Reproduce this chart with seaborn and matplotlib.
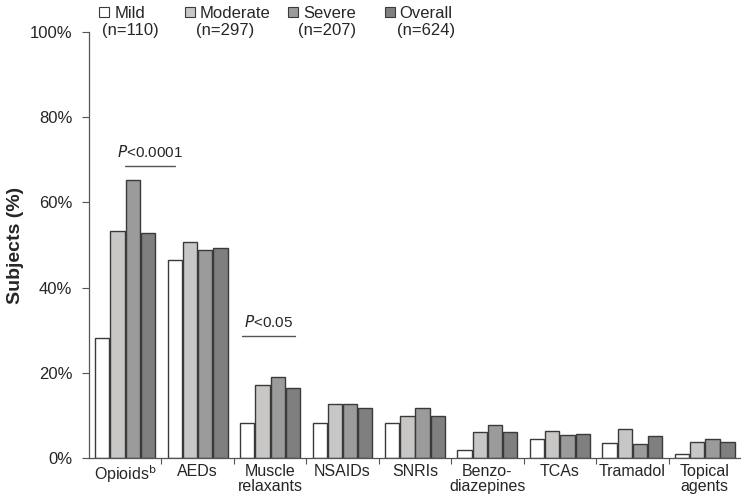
import matplotlib
matplotlib.use("Agg")
import matplotlib.pyplot as plt
import seaborn as sns
import pandas as pd
from matplotlib.patches import Patch
from matplotlib.ticker import FixedLocator, PercentFormatter

# Data
categories = ["Opioids", "AEDs", "Muscle relaxants", "NSAIDs", "SNRIs",
              "Benzodiazepines", "TCAs", "Tramadol", "Topical agents"]
tick_labels = ["Opioids$^{\\mathrm{b}}$", "AEDs", "Muscle\nrelaxants", "NSAIDs", "SNRIs",
               "Benzo-\ndiazepines", "TCAs", "Tramadol", "Topical\nagents"]
groups = ["Mild", "Moderate", "Severe", "Overall"]
group_n = ["(n=110)", "(n=297)", "(n=207)", "(n=624)"]
mild = [28.2, 46.5, 8.3, 8.3, 8.3, 1.8, 4.5, 3.6, 0.9]
moderate = [53.3, 50.6, 17.2, 12.6, 9.9, 6.0, 6.3, 6.7, 3.7]
severe = [65.3, 48.8, 18.9, 12.6, 11.7, 7.8, 5.4, 3.4, 4.4]
overall = [52.7, 49.2, 16.4, 11.7, 9.9, 6.0, 5.6, 5.1, 3.7]
colors = ["#ffffff", "#c9c6c6", "#9b9b9b", "#7f7f7f"]

rows = []
for g, vals in zip(groups, [mild, moderate, severe, overall]):
    for c, v in zip(categories, vals):
        rows.append({"Drug": c, "Group": g, "Pct": v})
df = pd.DataFrame(rows)

sns.set_style("white")
plt.rcParams["font.family"] = ["Liberation Sans", "DejaVu Sans"]

fig = plt.figure(figsize=(7.41, 5.0), dpi=100)
ax = fig.add_axes([0.12, 0.084, 0.88, 0.852])

sns.barplot(data=df, x="Drug", y="Pct", hue="Group", order=categories,
            hue_order=groups, palette=colors, width=0.84, gap=0.06,
            edgecolor="#3a3a3a", linewidth=1.0, saturation=1, ax=ax, legend=False)

ax.set_ylim(0, 100)
ax.set_xlim(-0.5, len(categories) - 0.5)
ax.yaxis.set_major_formatter(PercentFormatter(decimals=0))
ax.set_yticks(range(0, 101, 20))
ax.set_xticks(range(len(categories)))
ax.set_xticklabels(tick_labels, fontsize=11.5, linespacing=1.0)
ax.xaxis.set_minor_locator(FixedLocator([i + 0.5 for i in range(len(categories) - 1)]))
ax.tick_params(axis="x", which="major", length=0, pad=4)
ax.tick_params(axis="x", which="minor", length=4, width=0.8, color="#555555", direction="out", bottom=True)
ax.tick_params(axis="y", length=5, width=0.8, color="#555555", direction="out", left=True,
               labelsize=12, pad=7)
ax.set_xlabel("")
ax.set_ylabel("Subjects (%)", fontsize=14, fontweight="bold", labelpad=4)
sns.despine(ax=ax)
for s in ["left", "bottom"]:
    ax.spines[s].set_color("#555555")
    ax.spines[s].set_linewidth(0.9)

# significance annotations
ax.plot([0.0, 0.69], [68.5, 68.5], color="#555555", lw=1)
ax.text(0.345, 70.0, "$\\it{P}$<0.0001", ha="center", va="bottom", fontsize=11)
ax.plot([1.61, 2.34], [28.6, 28.6], color="#555555", lw=1)
ax.text(1.975, 30.1, "$\\it{P}$<0.05", ha="center", va="bottom", fontsize=11)

# legend entries placed one by one, sample sizes below
leg_x = [0.134, 0.249, 0.389, 0.519]
n_x = [0.138, 0.264, 0.402, 0.536]
for g, col, x in zip(groups, colors, leg_x):
    h = Patch(facecolor=col, edgecolor="#3a3a3a", linewidth=0.8)
    fig.legend([h], [g], loc="center left", bbox_to_anchor=(x, 0.973), frameon=False,
               fontsize=12, handlelength=0.6, handleheight=0.6, handletextpad=0.3,
               borderpad=0, borderaxespad=0)
for x, t in zip(n_x, group_n):
    fig.text(x, 0.939, t, fontsize=12, ha="left", va="center")

fig.savefig("out.png", dpi=100)
